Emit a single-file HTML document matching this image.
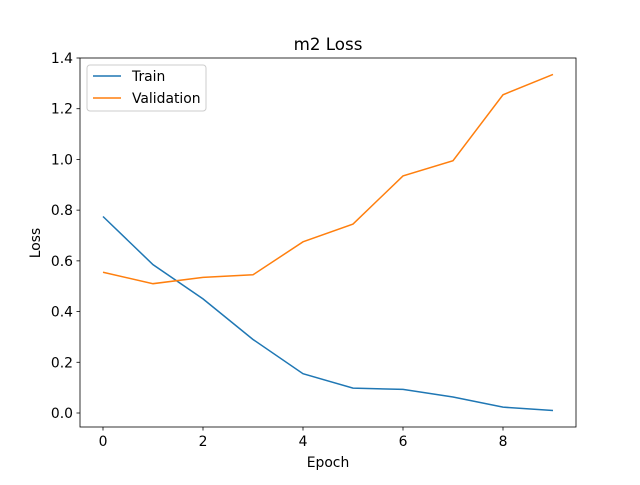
<!DOCTYPE html>
<html><head><meta charset="utf-8"><style>
body{margin:0;background:#fff;}
text{font-family:"DejaVu Sans","Liberation Sans",sans-serif;}
</style></head><body>
<svg id="chart" width="640" height="480" xmlns="http://www.w3.org/2000/svg">
<rect width="640" height="480" fill="#fff"/>
<text x="328" y="50" text-anchor="middle" font-size="16.7">m2 Loss</text>
<g id="axes"></g>
<rect x="80" y="58" width="496" height="369" fill="none" stroke="#000" stroke-width="0.8"/>
<text x="328" y="467" text-anchor="middle" font-size="13.9">Epoch</text>
<text transform="translate(40,243) rotate(-90)" text-anchor="middle" font-size="13.9">Loss</text>
<g>
<rect x="87" y="65" width="119" height="46" rx="3" fill="#fff" stroke="#ccc" stroke-width="1"/>
<line x1="93" y1="76" x2="121" y2="76" stroke="#1f77b4" stroke-width="1.5"/>
<text x="132" y="81" font-size="13.9">Train</text>
<line x1="93" y1="98" x2="121" y2="98" stroke="#ff7f0e" stroke-width="1.5"/>
<text x="132" y="103" font-size="13.9">Validation</text>
</g>
</svg>
<script>
const epochs=[0,1,2,3,4,5,6,7,8,9];
const trainLoss=[0.775,0.585,0.45,0.29,0.155,0.098,0.093,0.063,0.023,0.01];
const valLoss=[0.555,0.51,0.535,0.545,0.675,0.745,0.935,0.995,1.255,1.335];
const xTicks=[0,2,4,6,8];
const yTicks=[0.0,0.2,0.4,0.6,0.8,1.0,1.2,1.4];
const NS="http://www.w3.org/2000/svg";
const xS=v=>103+v*50;
const yS=v=>413-v*(355/1.4);
const g=document.getElementById('axes');
function mk(t,a){const e=document.createElementNS(NS,t);for(const k in a)e.setAttribute(k,a[k]);return e;}
xTicks.forEach(v=>{
 const l=mk('line',{x1:xS(v),x2:xS(v),y1:427,y2:430.5,stroke:'#000','stroke-width':0.8});
 
 
 g.appendChild(l);
 const t=mk('text',{x:xS(v),y:446,'text-anchor':'middle','font-size':13.9});
 
 
 t.textContent=v;g.appendChild(t);
});
yTicks.forEach(v=>{
 const l=mk('line',{x1:76.5,x2:80,y1:yS(v),y2:yS(v),stroke:'#000','stroke-width':0.8});
 
 
 g.appendChild(l);
 const t=mk('text',{x:73,y:yS(v)+5,'text-anchor':'end','font-size':13.9});
 
 
 t.textContent=v.toFixed(1);g.appendChild(t);
});
function series(d,c,name){
 const p=mk('polyline',{points:d.map((v,i)=>xS(epochs[i])+','+yS(v)).join(' '),fill:'none',stroke:c,'stroke-width':1.5});
 
 
 g.appendChild(p);
}
series(trainLoss,'#1f77b4','train-line');
series(valLoss,'#ff7f0e','validation-line');
</script>
</body></html>
